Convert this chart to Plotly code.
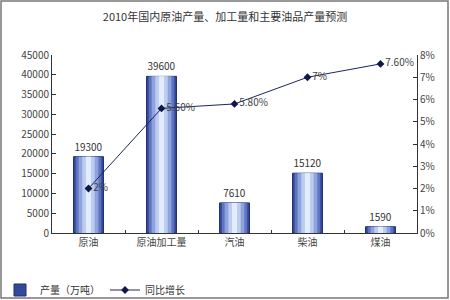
import plotly.graph_objects as go

categories = ["原油", "原油加工量", "汽油", "柴油", "煤油"]
output_wt = [19300, 39600, 7610, 15120, 1590]
growth = [0.02, 0.056, 0.058, 0.07, 0.076]
growth_labels = ["2%", "5.60%", "5.80%", "7%", "7.60%"]

FONT = "Noto Sans CJK SC"
L, R, T, B = 52, 33, 55, 67
W, H = 450, 300
pw, ph = W - L - R, H - T - B

fig = go.Figure()

# simulated cylinder gradient: overlapping bars
layers = [(0.41, "#34489a"), (0.35, "#5f74c0"), (0.27, "#8ea3dc"), (0.17, "#bccbf0"), (0.07, "#e2ecfc")]
for i, (w, c) in enumerate(layers):
    fig.add_trace(go.Bar(
        x=categories, y=output_wt, width=w,
        marker=dict(color=c, line=dict(width=1 if i == 0 else 0, color="#1f2f70")),
        name="产量（万吨）", showlegend=(i == 0),
        text=output_wt if i == 0 else None, textposition="outside",
        textfont=dict(size=10, color="#333", family=FONT),
        cliponaxis=False, hoverinfo="skip",
    ))

fig.add_trace(go.Scatter(
    x=categories, y=growth, yaxis="y2", mode="lines+markers+text",
    line=dict(color="#1c2460", width=1),
    marker=dict(symbol="diamond", size=6, color="#10184a"),
    text=growth_labels, textposition="middle right",
    textfont=dict(size=10, color="#444", family=FONT),
    name="同比增长", cliponaxis=False,
))

def px_x(p):
    return (p - L) / pw

def px_y(p):
    return (H - B - p) / ph

fig.update_layout(
    width=W, height=H,
    margin=dict(l=L, r=R, t=T, b=B, autoexpand=False),
    paper_bgcolor="white", plot_bgcolor="white",
    barmode="overlay",
    font=dict(family=FONT, size=10, color="#444"),
    title=dict(text="2010年国内原油产量、加工量和主要油品产量预测",
               x=0.5, xanchor="center", y=1 - 17 / H, yanchor="middle",
               font=dict(size=11, color="#333", family=FONT)),
    xaxis=dict(showline=True, linecolor="#333", linewidth=1, ticks="inside",
               tickson="boundaries", ticklen=3, tickcolor="#333",
               tickfont=dict(size=10, color="#444"), showgrid=False),
    yaxis=dict(range=[0, 45000], dtick=5000, tickformat="d", showline=True, linecolor="#333",
               ticks="inside", ticklen=4, tickcolor="#333", showgrid=False,
               zeroline=False, tickfont=dict(size=10, color="#444")),
    yaxis2=dict(range=[0, 0.08], dtick=0.01, tickformat=".0%", overlaying="y",
                side="right", showline=True, linecolor="#333", ticks="inside",
                ticklen=4, tickcolor="#333", showgrid=False, zeroline=False,
                tickfont=dict(size=10, color="#444")),
    legend=dict(orientation="h", x=px_x(0), xanchor="left", y=px_y(290),
                yanchor="middle", font=dict(size=10, color="#333"),
                bgcolor="rgba(0,0,0,0)", itemwidth=30, traceorder="normal"),
    showlegend=True,
    shapes=[dict(type="rect", xref="paper", yref="paper",
                 x0=px_x(1), x1=px_x(448), y0=px_y(298), y1=px_y(1),
                 line=dict(color="#777", width=1.5))],
)

fig.write_html("out.html")
